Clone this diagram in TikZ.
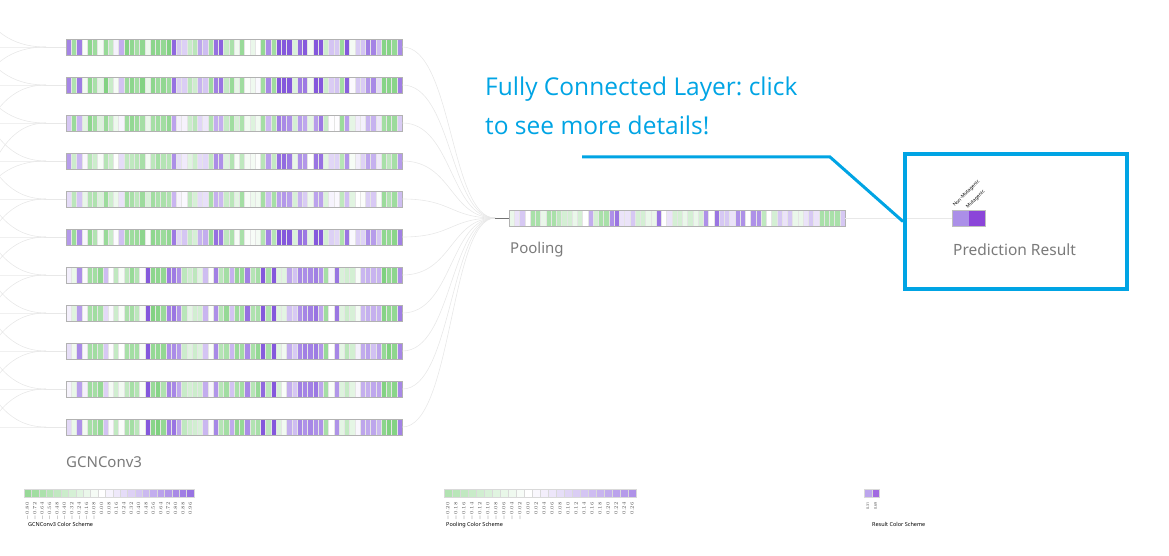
\documentclass[tikz,border=0pt]{standalone}
\usepackage{fontspec}
\setmainfont{Noto Sans}
\newfontfamily\annofont{Open Sans}
\frenchspacing

\definecolor{hint}{RGB}{0,164,228}
\definecolor{gneg}{RGB}{125,208,125}
\definecolor{gpos}{RGB}{132,88,220}
\definecolor{label}{RGB}{122,122,122}
\definecolor{predlo}{RGB}{171,143,232}
\definecolor{predhi}{RGB}{139,69,217}

% column values of the heat bars (negative = green, positive = purple)
\def\baseA{{5,-5,5,0,-6,-5,-1,-6,-3,0,3,-6,-6,-5,-6,-1,-6,-6,-6,-6,6,2,2,-3,-3,3,3,-5,6,6,-3,-5,-1,-5,0,-1,0,-5,5,-5,8,8,8,-2,6,6,-1,8,9,-2,2,2,-5,6,0,2,2,5,5,2,-6,-6,-6,5}}
\def\baseB{{1,-1,4,0,-5,-5,-5,2,0,-3,0,-4,-5,-4,0,8,-6,-6,-5,5,5,4,-3,-2,-3,-2,3,0,5,-4,-5,3,-5,-5,5,-4,-5,7,-4,8,-2,-1,3,2,5,5,5,5,4,-5,0,5,-2,-3,-2,0,3,3,3,3,-6,-6,-6,5}}
\def\poolvals{{-1,1,2,0,-4,-4,-1,-4,-4,-3,-2,-2,-1,-2,0,3,-2,-4,-4,4,5,1,1,2,-2,-2,-1,-1,5,0,1,-2,-2,-1,-2,-1,-2,4,0,5,2,2,1,4,4,0,4,4,-3,0,-2,2,1,2,-1,-1,1,2,1,-4,-4,-4,-4,2}}

% one cell: x, top y, width, value
\newcommand{\heatcell}[4]{%
  \pgfmathsetmacro\hv{max(min(#4,8),-8)}%
  \pgfmathsetmacro\hp{min(abs(\hv)*15,100)}%
  \ifdim\hv pt<0pt \def\hc{gneg}\else\def\hc{gpos}\fi
  \filldraw[fill=\hc!\hp!white, draw=black!10, line width=0.3pt] (#1,#2) rectangle ++(#3,16);}

\begin{document}
\begin{tikzpicture}[x=1pt, y=-1pt,
    bar/.style={draw=black!30, line width=0.8pt, minimum width=336pt, minimum height=16pt, inner sep=0pt},
    link/.style={draw=black!9, line width=0.6pt},
    tag/.style={text=label, font=\fontsize{15}{18}\selectfont, anchor=base west, inner sep=0pt},
    hinttext/.style={text=hint, font=\annofont\fontsize{24.5}{28}\selectfont, anchor=base west, inner sep=0pt},
    predlab/.style={rotate=45, anchor=west, font=\fontsize{4.8}{6}\selectfont, inner sep=0pt},
    scalelab/.style={rotate=90, anchor=east, font=\fontsize{3.6}{4}\selectfont, text=black!70, inner sep=0pt},
    scaletitle/.style={anchor=base west, font=\fontsize{5.5}{6}\selectfont, inner sep=0pt},
    cell/.style={draw=black!15, line width=0.3pt}]

\useasboundingbox (0,0) rectangle (1169,556);
\clip (0,0) rectangle (1169,556);

% Links from the previous layer
\foreach \r in {-1,...,13} \coordinate (prev\r) at (-90,47+38*\r-38);
\foreach \r in {1,...,11} \coordinate (in\r) at (46,47+38*\r-38);
\foreach \a/\b in {1/1,3/1,-1/1,2/2,5/2,0/2,1/3,3/3,7/3,4/4,1/4,6/4,2/5,5/5,8/5,6/6,3/6,9/6,7/7,4/7,10/7,8/8,5/8,11/8,9/9,6/9,12/9,10/10,7/10,13/10,11/11,8/11}
  \draw[link] (prev\a) .. controls +(75,0) and +(-75,0) .. (in\b);

% GCNConv3 bars
\pgfmathsetseed{7}
\foreach \r/\sc/\sh in {1/1/0, 2/0.95/0, 3/0.7/-1, 4/0.65/0, 5/0.6/-1, 6/0.9/0, 7/1/0, 8/1/0, 9/1/0, 10/0.95/0, 11/1/0} {
  \pgfmathsetmacro\yc{47+38*(\r-1)}
  \foreach \c in {0,...,63} {
    \ifnum\r<7 \pgfmathsetmacro\bv{\baseA[\c]}\else\pgfmathsetmacro\bv{\baseB[\c]}\fi
    \heatcell{66+5.25*\c}{\yc-8}{5.25}{\sc*\bv+\sh+0.7*rand}
  }
  \node[bar] (g\r) at (234,\yc) {};
  \draw[link] (in\r) -- (g\r.west);
}
\node[tag] (gcntag) at (66,467) {GCNConv3};

% Pooling
\coordinate (hub) at (495,218);
\foreach \r in {1,...,11} \draw[link] (g\r.east) .. controls +(50,0) and +(-45,0) .. (hub);
\foreach \c in {0,...,63} {
  \pgfmathsetmacro\pv{\poolvals[\c]}
  \heatcell{509+5.25*\c}{210}{5.25}{1.1*\pv}
}
\node[bar] (pool) at (677,218) {};
\draw[black!55, line width=0.8pt] (hub) -- (pool.west);
\node[tag] (pooltag) at (510,253) {Pooling};

% Prediction result
\draw[link] (pool.east) -- (968,218);
\fill[predlo] (952,210) rectangle ++(16.5,16);
\fill[predhi] (968.5,210) rectangle ++(16.5,16);
\node[draw=black!25, line width=0.6pt, minimum width=33pt, minimum height=16pt, inner sep=0pt] (pred) at (968.5,218) {};
\node[predlab] (nonmut) at (954,206) {Non-Mutagenic};
\node[predlab] (mut) at (967,208) {Mutagenic};
\node[tag, font=\fontsize{15.5}{18}\selectfont] (predtag) at (953,255) {Prediction Result};
\node[draw=hint, line width=4pt, minimum width=222pt, minimum height=135pt, inner sep=0pt] (predbox) at (1016,221.5) {};

% Hint
\node[hinttext] (hint1) at (485,96) {Fully Connected Layer: click};
\node[hinttext] (hint2) at (485,135) {to see more details!};
\coordinate (hintstart) at (582,157);
\coordinate (hintbend) at (830,157);
\draw[hint, line width=3pt] (hintstart) -- (hintbend) -- (predbox.west);

% Color schemes
\foreach \i in {0,...,22} {
  \pgfmathsetmacro\lx{24+7.39*\i}
  \pgfmathsetmacro\lp{\i<10 ? (10-\i)*8 : (\i-10)*7}
  \ifnum\i<10 \def\lc{gneg}\else\def\lc{gpos}\fi
  \filldraw[cell, fill=\lc!\lp!white] (\lx,489) rectangle ++(7.39,8);
  \pgfmathsetmacro\lv{(\i-10)*0.08}
  \node[scalelab] (gcnv\i) at (\lx+3.7,502) {\pgfmathprintnumber[fixed,fixed zerofill,precision=2]{\lv}};
}
\node[scaletitle] (gcnscale) at (28,526) {GCNConv3 Color Scheme};

\foreach \i in {0,...,23} {
  \pgfmathsetmacro\lx{444+8*\i}
  \pgfmathsetmacro\lp{\i<10 ? (10-\i)*6 : (\i-10)*5}
  \ifnum\i<10 \def\lc{gneg}\else\def\lc{gpos}\fi
  \filldraw[cell, fill=\lc!\lp!white] (\lx,489) rectangle ++(8,8);
  \pgfmathsetmacro\lv{(\i-10)*0.02}
  \node[scalelab] (poolv\i) at (\lx+4,502) {\pgfmathprintnumber[fixed,fixed zerofill,precision=2]{\lv}};
}
\node[scaletitle] (poolscale) at (446,526) {Pooling Color Scheme};

\filldraw[cell, fill=predlo!80!white] (864,489) rectangle ++(7.7,8);
\filldraw[cell, fill=predhi!80!white] (871.7,489) rectangle ++(7.7,8);
\node[scalelab] (resv0) at (867.8,502) {0.31};
\node[scalelab] (resv1) at (875.5,502) {0.69};
\node[scaletitle] (resscale) at (872,526) {Result Color Scheme};

\end{tikzpicture}
\end{document}
